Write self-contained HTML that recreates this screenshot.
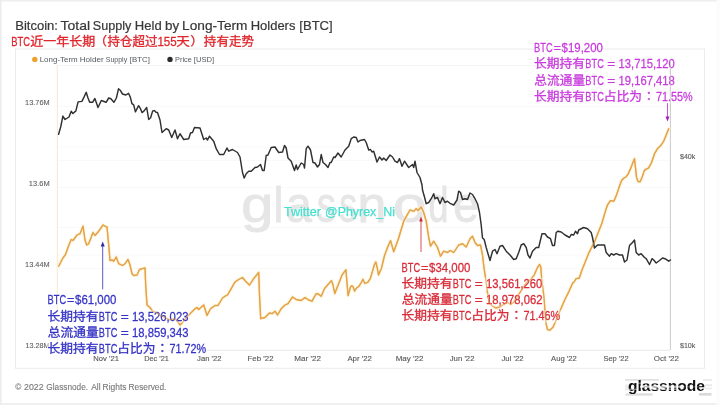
<!DOCTYPE html>
<html lang="zh">
<head>
<meta charset="utf-8">
<title>Bitcoin: Total Supply Held by Long-Term Holders [BTC]</title>
<style>
html,body{margin:0;padding:0;background:#fff;}
body{width:720px;height:405px;overflow:hidden;}
svg{display:block;}
text{font-family:"Liberation Sans", sans-serif;}
.cj{font-family:"Liberation Sans", "Noto Sans CJK SC", sans-serif;}
.ct{font-family:"Liberation Sans", "Noto Sans CJK TC", sans-serif;}
</style>
</head>
<body>
<svg width="720" height="405" viewBox="0 0 720 405">
<rect x="0" y="0" width="720" height="405" fill="#ffffff"/>
<rect x="0" y="0" width="720" height="1.5" fill="#eeeeee"/>
<rect x="0" y="403" width="720" height="2" fill="#f0f0f0"/>
<rect x="0" y="0" width="1.5" height="405" fill="#ececec"/>
<rect x="716.5" y="0" width="3.5" height="405" fill="#fcfcfc"/>
<!-- card frame -->
<rect x="15.5" y="49" width="689" height="319.3" fill="none" stroke="#ececec" stroke-width="1"/>
<line x1="57" y1="65.5" x2="670" y2="65.5" stroke="#f5f5f5" stroke-width="1"/>
<!-- gridlines -->
<g stroke="#f9f9f9" stroke-width="1">
<line x1="57" y1="106.5" x2="670" y2="106.5"/>
<line x1="57" y1="147" x2="670" y2="147"/>
<line x1="57" y1="160.5" x2="670" y2="160.5"/>
<line x1="57" y1="187.5" x2="670" y2="187.5"/>
<line x1="57" y1="227.5" x2="670" y2="227.5"/>
<line x1="57" y1="255" x2="670" y2="255"/>
<line x1="57" y1="268.5" x2="670" y2="268.5"/>
</g>
<!-- watermark -->
<text y="222" fill="#e6e6e6"><tspan x="241.19" font-size="50" textLength="32.15" lengthAdjust="spacingAndGlyphs" stroke="#e6e6e6" stroke-width="0.9">g</tspan><tspan x="273.63" font-size="50" textLength="9.48" lengthAdjust="spacingAndGlyphs" stroke="#e6e6e6" stroke-width="0.9">l</tspan><tspan x="286.05" font-size="50" textLength="25.86" lengthAdjust="spacingAndGlyphs" stroke="#e6e6e6" stroke-width="0.9">a</tspan><tspan x="316.70" font-size="50" textLength="19.20" lengthAdjust="spacingAndGlyphs" stroke="#e6e6e6" stroke-width="0.9">s</tspan><tspan x="339.24" font-size="50" textLength="17.88" lengthAdjust="spacingAndGlyphs" stroke="#e6e6e6" stroke-width="0.9">s</tspan><tspan x="357.56" font-size="50" textLength="28.86" lengthAdjust="spacingAndGlyphs" stroke="#e6e6e6" stroke-width="0.9">n</tspan><tspan x="393.02" font-size="50" textLength="33.53" lengthAdjust="spacingAndGlyphs" stroke="#e6e6e6" stroke-width="0.9">o</tspan><tspan x="428.48" font-size="50" textLength="19.93" lengthAdjust="spacingAndGlyphs" stroke="#e6e6e6" stroke-width="0.9">d</tspan><tspan x="453.16" font-size="50" textLength="25.60" lengthAdjust="spacingAndGlyphs" stroke="#e6e6e6" stroke-width="0.9">e</tspan></text>
<!-- axes -->
<line x1="57.4" y1="65" x2="57.4" y2="350" stroke="#f9ebd8" stroke-width="1.2"/>
<line x1="670.4" y1="59" x2="670.4" y2="350" stroke="#c4c4c4" stroke-width="0.9"/>
<line x1="57" y1="350.3" x2="670" y2="350.3" stroke="#e9e9e9" stroke-width="1"/>
<!-- title -->
<text y="29.7" fill="#383838"><tspan x="15.23" font-size="12.2" textLength="42.73" lengthAdjust="spacingAndGlyphs" stroke="#383838" stroke-width="0.2">Bitcoin:</tspan> <tspan x="60.61" font-size="12.2" textLength="29.51" lengthAdjust="spacingAndGlyphs" stroke="#383838" stroke-width="0.2">Total</tspan> <tspan x="92.83" font-size="12.2" textLength="38.57" lengthAdjust="spacingAndGlyphs" stroke="#383838" stroke-width="0.2">Supply</tspan> <tspan x="134.83" font-size="12.2" textLength="26.81" lengthAdjust="spacingAndGlyphs" stroke="#383838" stroke-width="0.2">Held</tspan> <tspan x="165.08" font-size="12.2" textLength="14.12" lengthAdjust="spacingAndGlyphs" stroke="#383838" stroke-width="0.2">by</tspan> <tspan x="182.08" font-size="12.2" textLength="65.38" lengthAdjust="spacingAndGlyphs" stroke="#383838" stroke-width="0.2">Long-Term</tspan> <tspan x="250.74" font-size="12.2" textLength="44.69" lengthAdjust="spacingAndGlyphs" stroke="#383838" stroke-width="0.2">Holders</tspan> <tspan x="299.29" font-size="12.2" textLength="33.41" lengthAdjust="spacingAndGlyphs" stroke="#383838" stroke-width="0.2">[BTC]</tspan></text>
<!-- legend -->
<circle cx="34.8" cy="59.4" r="2.7" fill="#eda22e"/>
<text y="62.0" fill="#555a60"><tspan x="39.66" font-size="7.5" textLength="38.11" lengthAdjust="spacingAndGlyphs">Long-Term</tspan> <tspan x="79.65" font-size="7.5" textLength="24.06" lengthAdjust="spacingAndGlyphs">Holder</tspan> <tspan x="105.72" font-size="7.5" textLength="21.48" lengthAdjust="spacingAndGlyphs">Supply</tspan> <tspan x="129.88" font-size="7.5" textLength="20.08" lengthAdjust="spacingAndGlyphs">[BTC]</tspan></text>
<circle cx="170" cy="59.4" r="2.7" fill="#2c2c2c"/>
<text y="62.0" fill="#555a60"><tspan x="175.11" font-size="7.5" textLength="16.70" lengthAdjust="spacingAndGlyphs">Price</tspan> <tspan x="193.89" font-size="7.5" textLength="20.35" lengthAdjust="spacingAndGlyphs">[USD]</tspan></text>
<!-- y labels -->
<text transform="translate(25.05,105.10) scale(0.9971,1)" font-size="7.4" fill="#606060" stroke="#606060" stroke-width="0.1">13.76M</text>
<text transform="translate(28.84,186.00) scale(1.0127,1)" font-size="7.4" fill="#606060" stroke="#606060" stroke-width="0.1">13.6M</text>
<text transform="translate(25.05,267.00) scale(0.9971,1)" font-size="7.4" fill="#606060" stroke="#606060" stroke-width="0.1">13.44M</text>
<text transform="translate(25.46,347.60) scale(0.9801,1)" font-size="7.4" fill="#606060" stroke="#606060" stroke-width="0.1">13.28M</text>
<text transform="translate(679.95,159.20) scale(0.9597,1)" font-size="7.4" fill="#555555" stroke="#555555" stroke-width="0.1">$40k</text>
<text transform="translate(679.95,348.00) scale(0.9597,1)" font-size="7.4" fill="#555555" stroke="#555555" stroke-width="0.1">$10k</text>
<!-- x labels -->
<text transform="translate(93.28,360.90) scale(1.0316,1)" font-size="7.4" fill="#585858" stroke="#585858" stroke-width="0.12">Nov '21</text>
<text transform="translate(144.20,360.90) scale(0.9940,1)" font-size="7.4" fill="#585858" stroke="#585858" stroke-width="0.12">Dec '21</text>
<text transform="translate(197.10,360.90) scale(1.0360,1)" font-size="7.4" fill="#585858" stroke="#585858" stroke-width="0.12">Jan '22</text>
<text transform="translate(247.56,360.90) scale(1.0645,1)" font-size="7.4" fill="#585858" stroke="#585858" stroke-width="0.12">Feb '22</text>
<text transform="translate(294.14,360.90) scale(1.0989,1)" font-size="7.4" fill="#585858" stroke="#585858" stroke-width="0.12">Mar '22</text>
<text transform="translate(347.40,360.90) scale(1.0547,1)" font-size="7.4" fill="#585858" stroke="#585858" stroke-width="0.12">Apr '22</text>
<text transform="translate(395.65,360.90) scale(1.0884,1)" font-size="7.4" fill="#585858" stroke="#585858" stroke-width="0.12">May '22</text>
<text transform="translate(449.69,360.90) scale(1.0533,1)" font-size="7.4" fill="#585858" stroke="#585858" stroke-width="0.12">Jun '22</text>
<text transform="translate(501.50,360.90) scale(1.0438,1)" font-size="7.4" fill="#585858" stroke="#585858" stroke-width="0.12">Jul '22</text>
<text transform="translate(551.10,360.90) scale(1.0367,1)" font-size="7.4" fill="#585858" stroke="#585858" stroke-width="0.12">Aug '22</text>
<text transform="translate(603.39,360.90) scale(1.0206,1)" font-size="7.4" fill="#585858" stroke="#585858" stroke-width="0.12">Sep '22</text>
<text transform="translate(653.72,360.90) scale(1.0846,1)" font-size="7.4" fill="#585858" stroke="#585858" stroke-width="0.12">Oct '22</text>
<!-- series -->
<polyline fill="none" stroke="#fdf3d6" stroke-width="3.6" stroke-linejoin="round" stroke-linecap="round" opacity="0.8" points="58.7,266.2 62.5,258.7 65.5,254.5 68.7,245.5 71.2,239.5 73.0,240.5 77.0,235.0 80.0,233.7 83.0,226.2 85.0,240.0 86.7,245.0 88.7,243.7 93.0,232.5 95.0,235.5 98.7,231.2 103.0,225.0 105.0,226.2 107.0,227.0 108.7,245.0 110.0,260.5 112.5,260.0 113.7,261.2 116.2,257.0 118.7,263.7 122.5,265.5 125.0,263.7 128.0,259.5 130.0,265.0 132.0,273.7 133.7,275.5 137.0,275.0 139.5,269.5 142.5,268.7 145.0,268.0 145.7,285.0 147.0,305.0 150.0,307.5 152.5,311.2 156.2,312.5 160.0,315.0 165.0,317.5 170.0,320.0 175.0,318.7 177.5,321.2 180.0,325.0 182.5,322.5 186.2,317.5 190.0,313.7 195.0,308.7 197.0,307.5 198.7,309.5 203.7,305.0 207.0,315.5 210.5,308.7 215.0,305.5 218.0,305.5 222.5,298.0 225.0,296.2 227.5,295.0 231.2,288.7 235.0,282.0 238.7,279.5 242.5,277.5 245.5,281.2 249.5,285.0 253.7,278.7 258.7,272.5 259.5,295.0 260.7,318.7 265.0,317.5 269.5,313.0 272.0,313.7 275.0,311.2 277.5,315.0 281.2,308.7 285.0,305.0 288.0,303.7 292.5,297.0 296.2,299.5 301.2,300.5 305.0,297.5 308.7,300.0 312.0,301.2 316.2,293.7 318.0,293.7 321.2,296.3 324.4,288.7 331.4,280.6 332.8,284.2 334.8,293.6 338.8,283.2 342.2,274.8 345.9,269.7 346.9,281.7 348.1,295.6 350.6,286.7 351.8,285.7 353.1,286.7 354.6,291.1 356.3,288.2 359.0,286.2 361.0,283.2 362.9,279.3 364.9,283.5 367.9,282.2 370.4,278.3 372.3,271.9 374.3,265.0 375.8,262.0 377.3,268.0 378.5,275.0 381.4,268.4 384.4,256.0 387.5,247.4 390.6,240.6 393.7,251.7 396.2,245.0 398.5,238.5 403.7,221.2 410.0,210.0 413.7,211.2 416.2,208.7 418.0,210.5 421.2,207.0 423.7,212.5 426.2,221.2 428.7,237.5 430.5,246.2 433.7,241.2 437.5,247.5 440.5,256.2 443.7,251.2 447.5,252.5 450.0,250.5 453.7,252.5 458.7,245.0 462.5,243.7 466.2,247.0 470.0,238.7 472.5,236.2 475.0,242.5 477.5,245.5 480.5,245.0 482.5,255.0 483.9,266.9 485.9,280.7 487.5,292.5 488.8,301.4 491.8,305.4 495.8,308.0 499.7,306.8 503.7,304.4 507.6,302.4 510.6,304.4 513.5,302.4 517.5,296.5 522.4,288.6 526.4,282.7 531.3,278.7 534.3,274.8 537.3,267.8 539.6,264.5 540.8,266.9 541.8,280.7 543.2,290.6 544.2,300.5 545.2,314.3 546.2,324.2 547.5,329.7 550.1,330.1 553.1,327.1 557.0,318.2 561.0,308.4 564.9,299.5 568.9,291.6 572.8,282.7 573.7,282.5 576.2,278.7 579.3,278.0 581.9,270.3 585.4,261.6 588.8,253.0 592.3,246.1 594.9,240.9 598.3,232.3 601.8,223.6 603.0,219.3 605.2,211.9 607.4,205.2 610.4,200.7 613.8,201.2 616.3,195.6 618.8,188.1 621.5,180.7 623.3,178.5 625.9,177.0 628.1,174.1 631.1,167.4 633.3,161.5 634.5,158.7 635.6,168.9 636.6,177.8 638.1,181.5 640.0,181.9 642.2,177.0 644.4,170.4 646.7,168.9 648.4,168.1 651.1,163.7 654.5,153.7 657.5,148.7 661.2,145.0 663.7,141.2 666.2,135.0 668.7,128.7"/>
<polyline fill="none" stroke="#e3a249" stroke-width="1.35" stroke-linejoin="round" stroke-linecap="round" points="58.7,266.2 62.5,258.7 65.5,254.5 68.7,245.5 71.2,239.5 73.0,240.5 77.0,235.0 80.0,233.7 83.0,226.2 85.0,240.0 86.7,245.0 88.7,243.7 93.0,232.5 95.0,235.5 98.7,231.2 103.0,225.0 105.0,226.2 107.0,227.0 108.7,245.0 110.0,260.5 112.5,260.0 113.7,261.2 116.2,257.0 118.7,263.7 122.5,265.5 125.0,263.7 128.0,259.5 130.0,265.0 132.0,273.7 133.7,275.5 137.0,275.0 139.5,269.5 142.5,268.7 145.0,268.0 145.7,285.0 147.0,305.0 150.0,307.5 152.5,311.2 156.2,312.5 160.0,315.0 165.0,317.5 170.0,320.0 175.0,318.7 177.5,321.2 180.0,325.0 182.5,322.5 186.2,317.5 190.0,313.7 195.0,308.7 197.0,307.5 198.7,309.5 203.7,305.0 207.0,315.5 210.5,308.7 215.0,305.5 218.0,305.5 222.5,298.0 225.0,296.2 227.5,295.0 231.2,288.7 235.0,282.0 238.7,279.5 242.5,277.5 245.5,281.2 249.5,285.0 253.7,278.7 258.7,272.5 259.5,295.0 260.7,318.7 265.0,317.5 269.5,313.0 272.0,313.7 275.0,311.2 277.5,315.0 281.2,308.7 285.0,305.0 288.0,303.7 292.5,297.0 296.2,299.5 301.2,300.5 305.0,297.5 308.7,300.0 312.0,301.2 316.2,293.7 318.0,293.7 321.2,296.3 324.4,288.7 331.4,280.6 332.8,284.2 334.8,293.6 338.8,283.2 342.2,274.8 345.9,269.7 346.9,281.7 348.1,295.6 350.6,286.7 351.8,285.7 353.1,286.7 354.6,291.1 356.3,288.2 359.0,286.2 361.0,283.2 362.9,279.3 364.9,283.5 367.9,282.2 370.4,278.3 372.3,271.9 374.3,265.0 375.8,262.0 377.3,268.0 378.5,275.0 381.4,268.4 384.4,256.0 387.5,247.4 390.6,240.6 393.7,251.7 396.2,245.0 398.5,238.5 403.7,221.2 410.0,210.0 413.7,211.2 416.2,208.7 418.0,210.5 421.2,207.0 423.7,212.5 426.2,221.2 428.7,237.5 430.5,246.2 433.7,241.2 437.5,247.5 440.5,256.2 443.7,251.2 447.5,252.5 450.0,250.5 453.7,252.5 458.7,245.0 462.5,243.7 466.2,247.0 470.0,238.7 472.5,236.2 475.0,242.5 477.5,245.5 480.5,245.0 482.5,255.0 483.9,266.9 485.9,280.7 487.5,292.5 488.8,301.4 491.8,305.4 495.8,308.0 499.7,306.8 503.7,304.4 507.6,302.4 510.6,304.4 513.5,302.4 517.5,296.5 522.4,288.6 526.4,282.7 531.3,278.7 534.3,274.8 537.3,267.8 539.6,264.5 540.8,266.9 541.8,280.7 543.2,290.6 544.2,300.5 545.2,314.3 546.2,324.2 547.5,329.7 550.1,330.1 553.1,327.1 557.0,318.2 561.0,308.4 564.9,299.5 568.9,291.6 572.8,282.7 573.7,282.5 576.2,278.7 579.3,278.0 581.9,270.3 585.4,261.6 588.8,253.0 592.3,246.1 594.9,240.9 598.3,232.3 601.8,223.6 603.0,219.3 605.2,211.9 607.4,205.2 610.4,200.7 613.8,201.2 616.3,195.6 618.8,188.1 621.5,180.7 623.3,178.5 625.9,177.0 628.1,174.1 631.1,167.4 633.3,161.5 634.5,158.7 635.6,168.9 636.6,177.8 638.1,181.5 640.0,181.9 642.2,177.0 644.4,170.4 646.7,168.9 648.4,168.1 651.1,163.7 654.5,153.7 657.5,148.7 661.2,145.0 663.7,141.2 666.2,135.0 668.7,128.7"/>
<polyline fill="none" stroke="#303030" stroke-width="1.45" stroke-linejoin="round" stroke-linecap="round" points="58.6,134.2 60.8,126.5 62.9,116.1 65.0,119.5 69.0,117.0 71.2,111.3 72.9,113.5 75.9,110.9 78.1,101.9 81.9,101.4 84.0,97.1 86.2,92.3 88.0,98.0 89.7,102.3 92.6,102.3 94.9,98.5 98.0,107.5 101.3,100.5 106.1,102.3 108.7,98.0 110.9,98.8 113.9,102.3 116.4,98.0 118.5,88.8 120.2,90.2 122.5,94.0 125.9,95.0 128.5,93.3 130.3,97.1 132.0,103.7 133.7,104.9 135.4,111.8 138.6,105.7 140.3,108.3 142.0,112.6 144.1,110.9 146.7,107.5 148.7,119.5 150.6,117.8 152.7,110.9 154.4,110.6 156.0,112.3 157.5,112.5 160.0,120.0 162.0,132.5 166.2,128.7 168.7,130.0 171.7,137.5 175.0,130.0 177.5,138.7 180.0,133.7 183.7,139.5 188.7,138.7 190.5,133.0 192.5,132.5 194.5,127.5 200.0,128.0 203.7,139.5 206.2,138.0 207.5,140.0 209.5,136.2 213.7,141.2 216.2,148.7 219.5,154.5 223.7,154.5 227.0,148.0 228.7,151.2 232.5,149.5 237.5,152.5 240.0,157.0 242.5,172.5 244.2,178.0 246.2,173.7 248.7,171.2 251.2,171.2 255.0,167.5 257.5,167.0 260.5,164.5 262.5,170.5 264.2,170.5 266.2,155.5 268.0,155.0 271.2,147.5 275.0,147.0 278.7,152.5 282.5,152.0 284.5,145.5 286.2,148.0 288.0,158.0 291.2,161.2 294.5,170.5 296.2,165.0 297.5,169.5 301.2,163.0 303.7,164.5 304.5,168.0 306.2,148.7 308.0,146.2 310.5,150.0 313.0,162.5 315.0,163.0 317.5,167.0 319.5,164.5 321.2,154.5 323.0,162.5 325.5,164.5 328.0,167.5 330.0,162.5 331.2,162.5 333.7,157.0 335.0,157.5 338.0,153.0 341.2,157.0 345.0,150.0 348.7,146.2 351.2,138.7 353.7,137.0 356.2,137.5 358.0,142.0 360.0,140.5 364.5,139.5 366.2,142.5 368.7,150.0 370.5,149.5 372.0,152.0 373.7,151.2 377.0,162.0 379.5,157.0 382.0,160.0 383.7,158.0 386.2,160.5 390.0,155.0 392.5,157.0 395.0,161.2 397.5,162.5 399.5,158.7 402.0,166.2 404.5,161.2 408.7,167.5 412.5,164.5 413.7,167.5 415.0,161.2 417.0,172.5 420.0,177.5 422.0,185.0 422.5,190.0 424.5,197.0 426.2,203.7 428.7,202.5 431.2,198.7 433.7,193.7 435.0,198.7 437.5,197.5 440.0,203.7 442.5,197.5 445.0,202.5 447.5,201.2 450.5,203.7 453.7,205.0 457.0,200.0 458.7,191.2 460.5,192.5 462.5,199.5 465.0,198.7 467.5,199.5 470.0,193.0 472.5,194.5 475.0,198.7 477.5,203.7 479.5,212.5 481.2,225.0 482.5,238.0 484.2,239.5 486.2,247.5 488.0,253.7 490.0,260.5 492.5,251.2 495.0,249.5 497.0,253.7 500.0,246.2 502.5,245.5 506.2,251.2 510.0,255.0 513.7,259.5 516.2,258.7 518.7,252.5 521.2,245.0 523.7,243.7 526.2,247.5 528.0,255.0 530.0,258.0 532.5,251.2 536.2,247.5 538.7,247.5 540.0,242.0 542.0,233.7 545.0,233.7 547.5,237.0 550.5,238.7 552.5,245.5 554.5,245.5 556.2,232.5 558.0,231.2 561.2,232.0 565.0,235.0 569.5,237.5 571.2,234.5 573.7,235.0 575.5,231.2 577.5,233.7 578.7,230.0 583.7,227.5 587.5,228.7 591.2,232.5 592.5,237.5 594.5,248.0 597.5,245.0 604.5,245.0 606.2,252.5 609.5,256.2 611.2,253.7 613.7,255.0 616.2,253.7 619.5,255.0 622.5,255.0 624.5,262.0 627.0,260.0 629.5,245.5 632.5,242.5 634.5,240.0 636.2,252.5 638.7,255.0 641.2,253.7 644.5,257.5 646.2,258.7 649.5,264.5 652.0,258.7 653.7,260.0 656.2,263.0 659.5,260.5 662.5,258.0 665.0,258.7 668.7,261.2 670.5,260.0"/>
<!-- twitter -->
<text y="216.4" fill="#44e0d0"><tspan x="284.00" font-size="13.4" textLength="36.86" lengthAdjust="spacingAndGlyphs" stroke="#44e0d0" stroke-width="0.25">Twitter</tspan> <tspan x="325.03" font-size="13.4" textLength="69.99" lengthAdjust="spacingAndGlyphs" stroke="#44e0d0" stroke-width="0.25">@Phyrex_Ni</tspan></text>
<!-- red title -->
<text y="45.7" fill="#e0242a"><tspan x="11.14" font-size="12.3" textLength="18.79" lengthAdjust="spacingAndGlyphs" stroke="#e0242a" stroke-width="0.27">BTC</tspan><tspan x="30.34" class="cj" font-size="11.985" textLength="64.98" lengthAdjust="spacingAndGlyphs" stroke="#e0242a" stroke-width="0.3">近一年长期</tspan><tspan x="94.35" class="cj" font-size="11.985" textLength="12.75" lengthAdjust="spacingAndGlyphs" stroke="#e0242a" stroke-width="0.3">（</tspan><tspan x="107.56" class="cj" font-size="11.985" textLength="49.98" lengthAdjust="spacingAndGlyphs" stroke="#e0242a" stroke-width="0.3">持仓超过</tspan><tspan x="157.45" font-size="12.3" textLength="19.31" lengthAdjust="spacingAndGlyphs" stroke="#e0242a" stroke-width="0.27">155</tspan><tspan x="176.37" class="cj" font-size="11.985" textLength="13.56" lengthAdjust="spacingAndGlyphs" stroke="#e0242a" stroke-width="0.3">天</tspan><tspan x="190.45" class="cj" font-size="11.985" textLength="12.75" lengthAdjust="spacingAndGlyphs" stroke="#e0242a" stroke-width="0.3">）</tspan><tspan x="203.86" class="cj" font-size="11.985" textLength="50.19" lengthAdjust="spacingAndGlyphs" stroke="#e0242a" stroke-width="0.3">持有走势</tspan></text>
<!-- arrows -->
<g stroke="#4a48cc" fill="#2a28a8"><line x1="102.7" y1="289.3" x2="102.7" y2="246" stroke-width="0.9"/><path d="M102.7 241.5 L100.7 246.5 L104.7 246.5 Z" stroke="none"/></g>
<g stroke="#d23a4c" fill="#cc2a40"><line x1="421" y1="252" x2="421" y2="221" stroke-width="0.9"/><path d="M421 216.5 L419.1 221.5 L422.9 221.5 Z" stroke="none"/></g>
<g stroke="#c040d8" fill="#a020b8"><line x1="667.5" y1="103" x2="667.5" y2="117" stroke-width="0.9"/><path d="M667.5 121.5 L665.5 116.5 L669.5 116.5 Z" stroke="none"/></g>
<!-- annotations -->
<g>
<rect x="47.3" y="293.3" width="70.0" height="12.8" fill="#ffffff" opacity="0.6"/>
<rect x="47.3" y="310.2" width="142.0" height="12.8" fill="#ffffff" opacity="0.6"/>
<rect x="47.3" y="326.5" width="142.0" height="12.8" fill="#ffffff" opacity="0.6"/>
<rect x="47.3" y="342.8" width="160.0" height="12.8" fill="#ffffff" opacity="0.6"/>
<text y="303.60" fill="#3634c6"><tspan x="47.54" font-size="12.3" textLength="18.58" lengthAdjust="spacingAndGlyphs" stroke="#3634c6" stroke-width="0.27">BTC</tspan><tspan x="66.98" font-size="12.3" textLength="7.42" lengthAdjust="spacingAndGlyphs" stroke="#3634c6" stroke-width="0.27">=</tspan><tspan x="75.11" font-size="12.3" textLength="41.30" lengthAdjust="spacingAndGlyphs" stroke="#3634c6" stroke-width="0.27">$61,000</tspan></text>
<text y="320.50" fill="#3634c6"><tspan x="47.60" class="cj" font-size="11.985" textLength="51.00" lengthAdjust="spacingAndGlyphs" stroke="#3634c6" stroke-width="0.3">长期持有</tspan><tspan x="98.85" font-size="12.3" textLength="18.48" lengthAdjust="spacingAndGlyphs" stroke="#3634c6" stroke-width="0.27">BTC</tspan> <tspan x="120.83" font-size="12.3" textLength="8.02" lengthAdjust="spacingAndGlyphs" stroke="#3634c6" stroke-width="0.27">=</tspan> <tspan x="132.08" font-size="12.3" textLength="56.32" lengthAdjust="spacingAndGlyphs" stroke="#3634c6" stroke-width="0.27">13,526,023</tspan></text>
<text y="336.80" fill="#3634c6"><tspan x="47.80" class="cj" font-size="11.985" textLength="51.00" lengthAdjust="spacingAndGlyphs" stroke="#3634c6" stroke-width="0.3">总流通量</tspan><tspan x="98.85" font-size="12.3" textLength="18.48" lengthAdjust="spacingAndGlyphs" stroke="#3634c6" stroke-width="0.27">BTC</tspan> <tspan x="120.83" font-size="12.3" textLength="8.02" lengthAdjust="spacingAndGlyphs" stroke="#3634c6" stroke-width="0.27">=</tspan> <tspan x="132.08" font-size="12.3" textLength="56.32" lengthAdjust="spacingAndGlyphs" stroke="#3634c6" stroke-width="0.27">18,859,343</tspan></text>
<text y="353.10" fill="#3634c6"><tspan x="47.60" class="cj" font-size="11.985" textLength="51.00" lengthAdjust="spacingAndGlyphs" stroke="#3634c6" stroke-width="0.3">长期持有</tspan><tspan x="98.85" font-size="12.3" textLength="18.48" lengthAdjust="spacingAndGlyphs" stroke="#3634c6" stroke-width="0.27">BTC</tspan><tspan x="117.25" class="cj" font-size="11.985" textLength="38.25" lengthAdjust="spacingAndGlyphs" stroke="#3634c6" stroke-width="0.3">占比为</tspan><tspan x="156.10" class="ct" lang="zh-TW" font-size="11.985" textLength="12.75" lengthAdjust="spacingAndGlyphs" stroke="#3634c6" stroke-width="0.3">：</tspan><tspan x="169.47" font-size="12.3" textLength="36.71" lengthAdjust="spacingAndGlyphs" stroke="#3634c6" stroke-width="0.27">71.72%</tspan></text>
<rect x="401.3" y="261.2" width="70.0" height="12.8" fill="#ffffff" opacity="0.6"/>
<rect x="401.3" y="277.6" width="142.0" height="12.8" fill="#ffffff" opacity="0.6"/>
<rect x="401.3" y="293.8" width="142.0" height="12.8" fill="#ffffff" opacity="0.6"/>
<rect x="401.3" y="310.0" width="160.0" height="12.8" fill="#ffffff" opacity="0.6"/>
<text y="271.50" fill="#d82c38"><tspan x="401.54" font-size="12.3" textLength="18.58" lengthAdjust="spacingAndGlyphs" stroke="#d82c38" stroke-width="0.27">BTC</tspan><tspan x="420.98" font-size="12.3" textLength="7.42" lengthAdjust="spacingAndGlyphs" stroke="#d82c38" stroke-width="0.27">=</tspan><tspan x="429.11" font-size="12.3" textLength="41.30" lengthAdjust="spacingAndGlyphs" stroke="#d82c38" stroke-width="0.27">$34,000</tspan></text>
<text y="287.90" fill="#d82c38"><tspan x="401.60" class="cj" font-size="11.985" textLength="51.00" lengthAdjust="spacingAndGlyphs" stroke="#d82c38" stroke-width="0.3">长期持有</tspan><tspan x="452.85" font-size="12.3" textLength="18.48" lengthAdjust="spacingAndGlyphs" stroke="#d82c38" stroke-width="0.27">BTC</tspan> <tspan x="474.83" font-size="12.3" textLength="8.02" lengthAdjust="spacingAndGlyphs" stroke="#d82c38" stroke-width="0.27">=</tspan> <tspan x="486.08" font-size="12.3" textLength="56.22" lengthAdjust="spacingAndGlyphs" stroke="#d82c38" stroke-width="0.27">13,561,260</tspan></text>
<text y="304.10" fill="#d82c38"><tspan x="401.80" class="cj" font-size="11.985" textLength="51.00" lengthAdjust="spacingAndGlyphs" stroke="#d82c38" stroke-width="0.3">总流通量</tspan><tspan x="452.85" font-size="12.3" textLength="18.48" lengthAdjust="spacingAndGlyphs" stroke="#d82c38" stroke-width="0.27">BTC</tspan> <tspan x="474.83" font-size="12.3" textLength="8.02" lengthAdjust="spacingAndGlyphs" stroke="#d82c38" stroke-width="0.27">=</tspan> <tspan x="486.08" font-size="12.3" textLength="56.36" lengthAdjust="spacingAndGlyphs" stroke="#d82c38" stroke-width="0.27">18,978,062</tspan></text>
<text y="320.30" fill="#d82c38"><tspan x="401.60" class="cj" font-size="11.985" textLength="51.00" lengthAdjust="spacingAndGlyphs" stroke="#d82c38" stroke-width="0.3">长期持有</tspan><tspan x="452.85" font-size="12.3" textLength="18.48" lengthAdjust="spacingAndGlyphs" stroke="#d82c38" stroke-width="0.27">BTC</tspan><tspan x="471.25" class="cj" font-size="11.985" textLength="38.25" lengthAdjust="spacingAndGlyphs" stroke="#d82c38" stroke-width="0.3">占比为</tspan><tspan x="510.10" class="ct" lang="zh-TW" font-size="11.985" textLength="12.75" lengthAdjust="spacingAndGlyphs" stroke="#d82c38" stroke-width="0.3">：</tspan><tspan x="523.47" font-size="12.3" textLength="36.71" lengthAdjust="spacingAndGlyphs" stroke="#d82c38" stroke-width="0.27">71.46%</tspan></text>
<rect x="533.8" y="41.5" width="70.0" height="12.8" fill="#ffffff" opacity="0.6"/>
<rect x="533.8" y="57.9" width="142.0" height="12.8" fill="#ffffff" opacity="0.6"/>
<rect x="533.8" y="74.2" width="142.0" height="12.8" fill="#ffffff" opacity="0.6"/>
<rect x="533.8" y="90.5" width="160.0" height="12.8" fill="#ffffff" opacity="0.6"/>
<text y="51.80" fill="#c93bde"><tspan x="534.04" font-size="12.3" textLength="18.58" lengthAdjust="spacingAndGlyphs" stroke="#c93bde" stroke-width="0.27">BTC</tspan><tspan x="553.48" font-size="12.3" textLength="7.42" lengthAdjust="spacingAndGlyphs" stroke="#c93bde" stroke-width="0.27">=</tspan><tspan x="561.61" font-size="12.3" textLength="41.30" lengthAdjust="spacingAndGlyphs" stroke="#c93bde" stroke-width="0.27">$19,200</tspan></text>
<text y="68.20" fill="#c93bde"><tspan x="534.10" class="cj" font-size="11.985" textLength="51.00" lengthAdjust="spacingAndGlyphs" stroke="#c93bde" stroke-width="0.3">长期持有</tspan><tspan x="585.35" font-size="12.3" textLength="18.48" lengthAdjust="spacingAndGlyphs" stroke="#c93bde" stroke-width="0.27">BTC</tspan> <tspan x="607.33" font-size="12.3" textLength="8.02" lengthAdjust="spacingAndGlyphs" stroke="#c93bde" stroke-width="0.27">=</tspan> <tspan x="618.58" font-size="12.3" textLength="56.22" lengthAdjust="spacingAndGlyphs" stroke="#c93bde" stroke-width="0.27">13,715,120</tspan></text>
<text y="84.50" fill="#c93bde"><tspan x="534.30" class="cj" font-size="11.985" textLength="51.00" lengthAdjust="spacingAndGlyphs" stroke="#c93bde" stroke-width="0.3">总流通量</tspan><tspan x="585.35" font-size="12.3" textLength="18.48" lengthAdjust="spacingAndGlyphs" stroke="#c93bde" stroke-width="0.27">BTC</tspan> <tspan x="607.33" font-size="12.3" textLength="8.02" lengthAdjust="spacingAndGlyphs" stroke="#c93bde" stroke-width="0.27">=</tspan> <tspan x="618.58" font-size="12.3" textLength="56.27" lengthAdjust="spacingAndGlyphs" stroke="#c93bde" stroke-width="0.27">19,167,418</tspan></text>
<text y="100.80" fill="#c93bde"><tspan x="534.10" class="cj" font-size="11.985" textLength="51.00" lengthAdjust="spacingAndGlyphs" stroke="#c93bde" stroke-width="0.3">长期持有</tspan><tspan x="585.35" font-size="12.3" textLength="18.48" lengthAdjust="spacingAndGlyphs" stroke="#c93bde" stroke-width="0.27">BTC</tspan><tspan x="603.75" class="cj" font-size="11.985" textLength="38.25" lengthAdjust="spacingAndGlyphs" stroke="#c93bde" stroke-width="0.3">占比为</tspan><tspan x="642.60" class="ct" lang="zh-TW" font-size="11.985" textLength="12.75" lengthAdjust="spacingAndGlyphs" stroke="#c93bde" stroke-width="0.3">：</tspan><tspan x="655.97" font-size="12.3" textLength="36.71" lengthAdjust="spacingAndGlyphs" stroke="#c93bde" stroke-width="0.27">71.55%</tspan></text>
</g>
<polyline fill="none" stroke="#e3a249" stroke-width="1.2" stroke-linejoin="round" stroke-linecap="round" opacity="0.55" points="58.7,266.2 62.5,258.7 65.5,254.5 68.7,245.5 71.2,239.5 73.0,240.5 77.0,235.0 80.0,233.7 83.0,226.2 85.0,240.0 86.7,245.0 88.7,243.7 93.0,232.5 95.0,235.5 98.7,231.2 103.0,225.0 105.0,226.2 107.0,227.0 108.7,245.0 110.0,260.5 112.5,260.0 113.7,261.2 116.2,257.0 118.7,263.7 122.5,265.5 125.0,263.7 128.0,259.5 130.0,265.0 132.0,273.7 133.7,275.5 137.0,275.0 139.5,269.5 142.5,268.7 145.0,268.0 145.7,285.0 147.0,305.0 150.0,307.5 152.5,311.2 156.2,312.5 160.0,315.0 165.0,317.5 170.0,320.0 175.0,318.7 177.5,321.2 180.0,325.0 182.5,322.5 186.2,317.5 190.0,313.7 195.0,308.7 197.0,307.5 198.7,309.5 203.7,305.0 207.0,315.5 210.5,308.7 215.0,305.5 218.0,305.5 222.5,298.0 225.0,296.2 227.5,295.0 231.2,288.7 235.0,282.0 238.7,279.5 242.5,277.5 245.5,281.2 249.5,285.0 253.7,278.7 258.7,272.5 259.5,295.0 260.7,318.7 265.0,317.5 269.5,313.0 272.0,313.7 275.0,311.2 277.5,315.0 281.2,308.7 285.0,305.0 288.0,303.7 292.5,297.0 296.2,299.5 301.2,300.5 305.0,297.5 308.7,300.0 312.0,301.2 316.2,293.7 318.0,293.7 321.2,296.3 324.4,288.7 331.4,280.6 332.8,284.2 334.8,293.6 338.8,283.2 342.2,274.8 345.9,269.7 346.9,281.7 348.1,295.6 350.6,286.7 351.8,285.7 353.1,286.7 354.6,291.1 356.3,288.2 359.0,286.2 361.0,283.2 362.9,279.3 364.9,283.5 367.9,282.2 370.4,278.3 372.3,271.9 374.3,265.0 375.8,262.0 377.3,268.0 378.5,275.0 381.4,268.4 384.4,256.0 387.5,247.4 390.6,240.6 393.7,251.7 396.2,245.0 398.5,238.5 403.7,221.2 410.0,210.0 413.7,211.2 416.2,208.7 418.0,210.5 421.2,207.0 423.7,212.5 426.2,221.2 428.7,237.5 430.5,246.2 433.7,241.2 437.5,247.5 440.5,256.2 443.7,251.2 447.5,252.5 450.0,250.5 453.7,252.5 458.7,245.0 462.5,243.7 466.2,247.0 470.0,238.7 472.5,236.2 475.0,242.5 477.5,245.5 480.5,245.0 482.5,255.0 483.9,266.9 485.9,280.7 487.5,292.5 488.8,301.4 491.8,305.4 495.8,308.0 499.7,306.8 503.7,304.4 507.6,302.4 510.6,304.4 513.5,302.4 517.5,296.5 522.4,288.6 526.4,282.7 531.3,278.7 534.3,274.8 537.3,267.8 539.6,264.5 540.8,266.9 541.8,280.7 543.2,290.6 544.2,300.5 545.2,314.3 546.2,324.2 547.5,329.7 550.1,330.1 553.1,327.1 557.0,318.2 561.0,308.4 564.9,299.5 568.9,291.6 572.8,282.7 573.7,282.5 576.2,278.7 579.3,278.0 581.9,270.3 585.4,261.6 588.8,253.0 592.3,246.1 594.9,240.9 598.3,232.3 601.8,223.6 603.0,219.3 605.2,211.9 607.4,205.2 610.4,200.7 613.8,201.2 616.3,195.6 618.8,188.1 621.5,180.7 623.3,178.5 625.9,177.0 628.1,174.1 631.1,167.4 633.3,161.5 634.5,158.7 635.6,168.9 636.6,177.8 638.1,181.5 640.0,181.9 642.2,177.0 644.4,170.4 646.7,168.9 648.4,168.1 651.1,163.7 654.5,153.7 657.5,148.7 661.2,145.0 663.7,141.2 666.2,135.0 668.7,128.7"/>
<line x1="670.4" y1="59" x2="670.4" y2="110" stroke="#c4c4c4" stroke-width="0.9" opacity="0.6"/>
<!-- footer -->
<text y="389.9" fill="#777777"><tspan x="15.30" font-size="8.2" textLength="6.09" lengthAdjust="spacingAndGlyphs" stroke="#777777" stroke-width="0.1">©</tspan> <tspan x="24.07" font-size="8.2" textLength="19.57" lengthAdjust="spacingAndGlyphs" stroke="#777777" stroke-width="0.1">2022</tspan> <tspan x="46.30" font-size="8.2" textLength="41.74" lengthAdjust="spacingAndGlyphs" stroke="#777777" stroke-width="0.1">Glassnode.</tspan> <tspan x="91.20" font-size="8.2" textLength="9.33" lengthAdjust="spacingAndGlyphs" stroke="#777777" stroke-width="0.1">All</tspan> <tspan x="102.63" font-size="8.2" textLength="23.82" lengthAdjust="spacingAndGlyphs" stroke="#777777" stroke-width="0.1">Rights</tspan> <tspan x="128.54" font-size="8.2" textLength="37.79" lengthAdjust="spacingAndGlyphs" stroke="#777777" stroke-width="0.1">Reserved.</tspan></text>
<g fill="#e2e2e2">
<rect x="625" y="379" width="34" height="1.8"/>
<rect x="703" y="379.2" width="9" height="1.6" fill="#e8e8e8"/>
<rect x="625" y="384.5" width="4" height="6" fill="#eeeeee"/>
<rect x="705" y="384.5" width="7" height="1.6" fill="#e6e6e6"/>
<rect x="705" y="387.6" width="7" height="1.6" fill="#ececec"/>
<rect x="625.5" y="393.3" width="27" height="2.4" fill="#dedede"/>
<rect x="699" y="393" width="12.5" height="2.6" fill="#dadada"/>
</g>
<text transform="translate(627.91,390.70) scale(1.1131,1)" font-size="14" fill="#111111" font-weight="700">glassnode</text>
<g fill="#ffffff">
<rect x="640" y="385.6" width="42" height="2.2" opacity="0.7"/>
<rect x="629" y="388.6" width="8" height="1.3" opacity="0.5"/>
<rect x="651" y="388.4" width="26" height="1.5" opacity="0.5"/>
<rect x="638" y="382.6" width="20" height="1.2" opacity="0.45"/>
<rect x="684" y="386.4" width="18" height="1.0" opacity="0.35"/>
</g>
</svg>
</body>
</html>
